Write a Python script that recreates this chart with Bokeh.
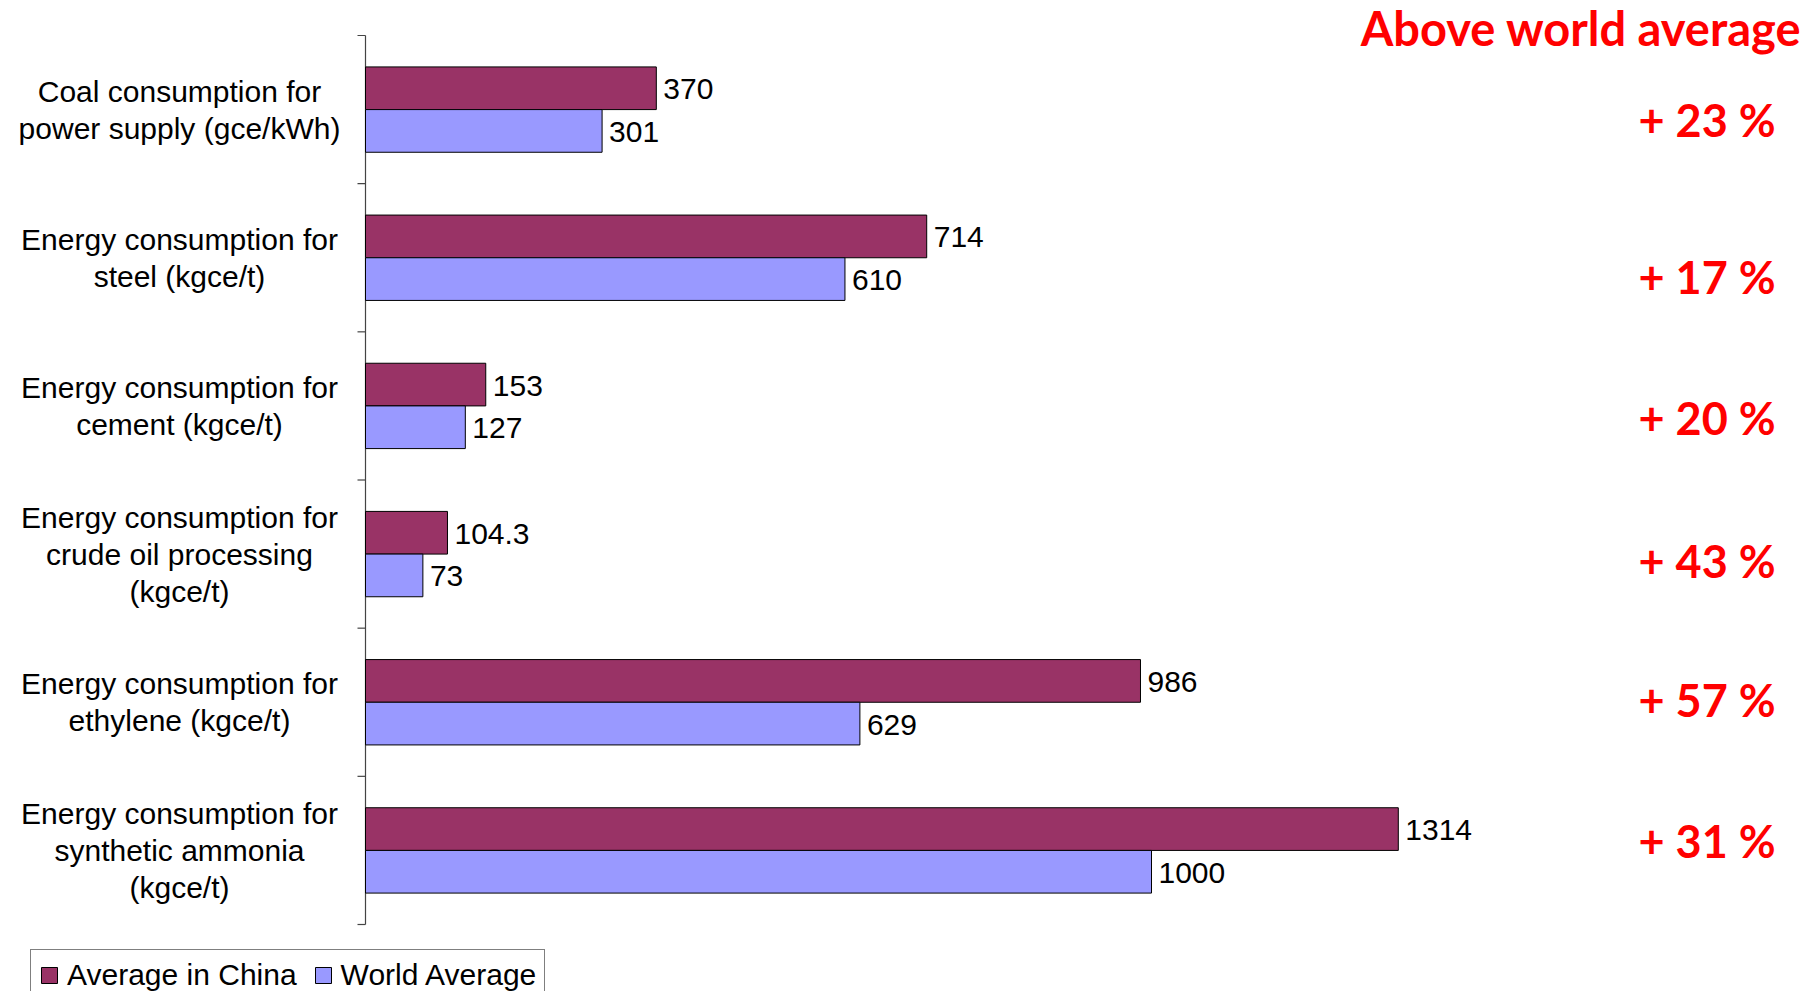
import numpy as np
from bokeh.plotting import figure
from bokeh.models import ColumnDataSource, Range1d, Legend, LegendItem
from bokeh.core.properties import value
from bokeh.embed import file_html
from bokeh.resources import INLINE

# ---- data -------------------------------------------------------------
categories = [
    "Coal consumption for\npower supply (gce/kWh)",
    "Energy consumption for\nsteel (kgce/t)",
    "Energy consumption for\ncement (kgce/t)",
    "Energy consumption for\ncrude oil processing\n(kgce/t)",
    "Energy consumption for\nethylene (kgce/t)",
    "Energy consumption for\nsynthetic ammonia\n(kgce/t)",
]
china_avg = [370, 714, 153, 104.3, 986, 1314]
world_avg = [301, 610, 127, 73, 629, 1000]

# ---- styling / layout -------------------------------------------------
W, H = 1818, 991
AXIS_X = 365            # px position of the value-axis origin
PLOT_TOP, PLOT_BOTTOM = 35, 924
PX_PER_UNIT = 0.786     # horizontal scale of the bars
CHINA_COLOR = "#993366"
WORLD_COLOR = "#9999FF"
AXIS_COLOR = "#444444"
BASE_FONT = "Liberation Sans"
HEAD_FONT = "Lato"
BAR_H = 0.288
TICK_PX = 8
# small vertical nudges (px) for the percentage column
pct_nudge = [10, 19, 12, 7, -2, -9]

n = len(categories)
band_px = (PLOT_BOTTOM - PLOT_TOP) / n
centers = np.arange(n) + 0.5
pct = [f"+ {round((c / w - 1) * 100)} %" for c, w in zip(china_avg, world_avg)]

x_lo = -AXIS_X / PX_PER_UNIT
x_hi = (W - AXIS_X) / PX_PER_UNIT
y_top = -PLOT_TOP / band_px
y_bot = n + (H - PLOT_BOTTOM) / band_px

china_src = ColumnDataSource(dict(
    y=centers - BAR_H / 2, v=china_avg, lbl=[f"{v:g}" for v in china_avg]))
world_src = ColumnDataSource(dict(
    y=centers + BAR_H / 2, v=world_avg, lbl=[f"{v:g}" for v in world_avg]))
cat_src = ColumnDataSource(dict(y=centers, x=[0] * n, name=categories))
pct_src = ColumnDataSource(dict(y=centers, x=[0] * n, txt=pct, dy=pct_nudge))

p = figure(width=W, height=H, output_backend="svg", toolbar_location=None,
           x_range=Range1d(x_lo, x_hi), y_range=Range1d(y_bot, y_top),
           min_border=0)
p.outline_line_color = None
p.grid.visible = False
p.axis.visible = False

# category axis: line and boundary ticks
bounds = list(range(n + 1))
p.segment(x0=[0], y0=[0], x1=[0], y1=[n], line_color=AXIS_COLOR, line_width=1.2)
p.segment(x0=[-TICK_PX / PX_PER_UNIT] * len(bounds), y0=bounds,
          x1=[0] * len(bounds), y1=bounds, line_color=AXIS_COLOR, line_width=1.2)

r_china = p.hbar(y="y", right="v", left=0, height=BAR_H, source=china_src,
                 fill_color=CHINA_COLOR, line_color="black", line_width=1)
r_world = p.hbar(y="y", right="v", left=0, height=BAR_H, source=world_src,
                 fill_color=WORLD_COLOR, line_color="black", line_width=1)

# value labels at the bar ends
for src in (china_src, world_src):
    p.text(x="v", y="y", text="lbl", source=src, x_offset=7, y_offset=1,
           text_align="left", text_baseline="middle",
           text_font=value(BASE_FONT), text_font_size="30px", text_color="black")

# percentage above world average
p.text(x="x", y="y", text="txt", source=pct_src, x_offset=1273, y_offset="dy",
       text_align="left", text_baseline="middle",
       text_font=value(HEAD_FONT), text_font_style="bold",
       text_font_size="45px", text_color="#FF0000")

# category names, centred to the left of the axis
p.text(x="x", y="y", text="name", source=cat_src, x_offset=-186,
       text_align="center", text_baseline="middle",
       text_font=value(BASE_FONT), text_font_size="30px",
       text_line_height=1.12, text_color="black")

p.text(x=[x_hi], y=[0], text=["Above world average"], x_offset=-17, y_offset=-8,
       text_align="right", text_baseline="alphabetic",
       text_font=value(HEAD_FONT), text_font_style="bold",
       text_font_size="47px", text_color="#FF0000")

legend = Legend(items=[LegendItem(label="Average in China", renderers=[r_china]),
                       LegendItem(label="World Average", renderers=[r_world])],
                orientation="horizontal", location=(30, -10),
                margin=0, padding=8, spacing=16, label_standoff=8,
                glyph_width=20, glyph_height=20,
                border_line_color="black", border_line_width=1,
                label_text_font=BASE_FONT, label_text_font_size="30px",
                label_text_color="black", background_fill_color="white")
p.add_layout(legend)

open("out.html", "w").write(file_html(p, INLINE))
